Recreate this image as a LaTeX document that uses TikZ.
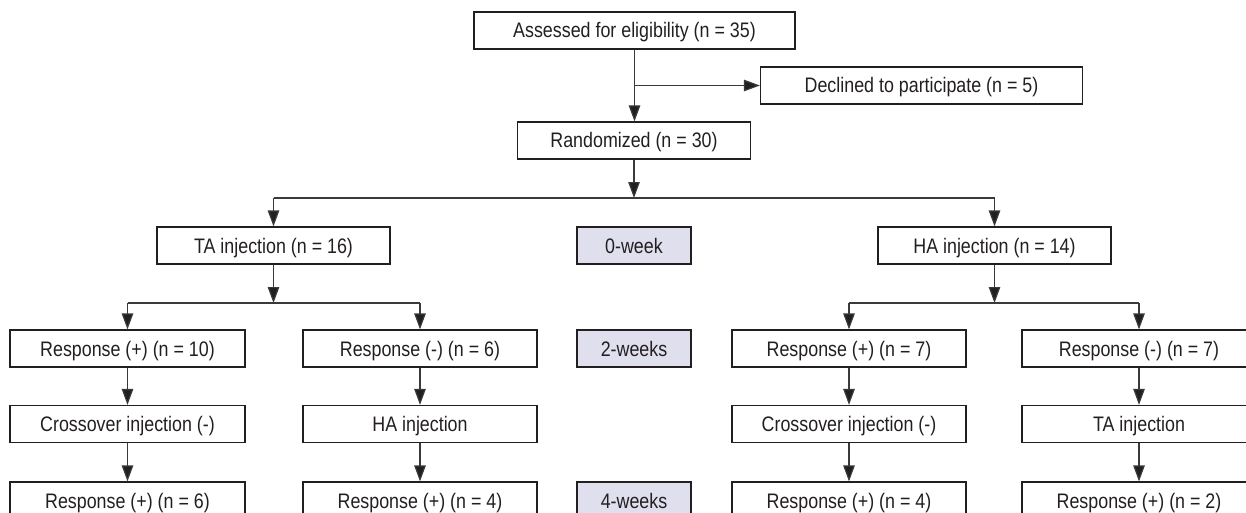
\documentclass[tikz,border=0pt]{standalone}
\usepackage{fontspec}
\setmainfont{Liberation Sans}[FakeStretch=0.85]
\usetikzlibrary{arrows.meta}
\definecolor{weekfill}{HTML}{DFDFEE}
\definecolor{ink}{HTML}{231F20}
\definecolor{wire}{HTML}{3A3A3A}
\begin{document}
\begin{tikzpicture}[x=1pt,y=-1pt,
  box/.style={draw=ink,line width=1.2pt,minimum width=234pt,minimum height=37pt,inner sep=0pt,text=ink,text height=16.5pt,text depth=1.5pt,font=\fontsize{21}{23}\selectfont},
  wbox/.style={box,fill=weekfill,minimum width=114pt},
  arr/.style={draw=wire,line width=1.2pt,-{Triangle[length=16pt,width=11.5pt,fill=ink]}},
  ln/.style={draw=wire,line width=1.2pt}]
\useasboundingbox (0,0) rectangle (1246,513);
\clip (0,0) rectangle (1246,513);
% top
\node[box,minimum width=321pt] (assess) at (634.5,30.5) {Assessed for eligibility (n = 35)};
\node[box,minimum width=322pt] (decl) at (921.5,85.5) {Declined to participate (n = 5)};
\node[box,minimum width=233pt] (rand) at (634,140.5) {Randomized (n = 30)};
% row 1
\node[box,minimum width=233pt] (ta) at (273.5,245.5) {TA injection (n = 16)};
\node[wbox] (w0) at (634,245.5) {0-week};
\node[box,minimum width=233pt] (ha) at (994.5,245.5) {HA injection (n = 14)};
% row 2
\node[box,minimum width=235pt] (r1) at (127.5,348.5) {Response (+) (n = 10)};
\node[box] (r2) at (420,348.5) {Response (-) (n = 6)};
\node[wbox] (w2) at (634,348.5) {2-weeks};
\node[box] (r3) at (849,348.5) {Response (+) (n = 7)};
\node[box] (r4) at (1139,348.5) {Response (-) (n = 7)};
% row 3
\node[box,minimum width=235pt] (c1) at (127.5,424) {Crossover injection (-)};
\node[box] (c2) at (420,424) {HA injection};
\node[box] (c3) at (849,424) {Crossover injection (-)};
\node[box] (c4) at (1139,424) {TA injection};
% row 4
\node[box,minimum width=235pt] (f1) at (127.5,500.5) {Response (+) (n = 6)};
\node[box] (f2) at (420,500.5) {Response (+) (n = 4)};
\node[wbox] (w4) at (634,500.5) {4-weeks};
\node[box] (f3) at (849,500.5) {Response (+) (n = 4)};
\node[box] (f4) at (1139,500.5) {Response (+) (n = 2)};
% connectors top
\coordinate (b0) at (assess.south |- decl.west);
\draw[arr] (assess.south) -- (assess.south |- rand.north);
\draw[arr] (b0) -- (decl.west);
\coordinate (s1) at (634,198);
\draw[arr] (rand.south) -- (s1);
\draw[ln] (ta.north |- s1) -- (ha.north |- s1);
\draw[arr] (ta.north |- s1) -- (ta.north);
\draw[arr] (ha.north |- s1) -- (ha.north);
% TA branch
\coordinate (s2) at (273.5,303);
\draw[arr] (ta.south) -- (s2);
\draw[ln] (r1.north |- s2) -- (r2.north |- s2);
\draw[arr] (r1.north |- s2) -- (r1.north);
\draw[arr] (r2.north |- s2) -- (r2.north);
% HA branch
\coordinate (s3) at (994.5,303);
\draw[arr] (ha.south) -- (s3);
\draw[ln] (r3.north |- s3) -- (r4.north |- s3);
\draw[arr] (r3.north |- s3) -- (r3.north);
\draw[arr] (r4.north |- s3) -- (r4.north);
% columns
\foreach \a/\b/\c in {r1/c1/f1,r2/c2/f2,r3/c3/f3,r4/c4/f4}{
  \draw[arr] (\a.south) -- (\b.north);
  \draw[arr] (\b.south) -- (\c.north);
}
\end{tikzpicture}
\end{document}
